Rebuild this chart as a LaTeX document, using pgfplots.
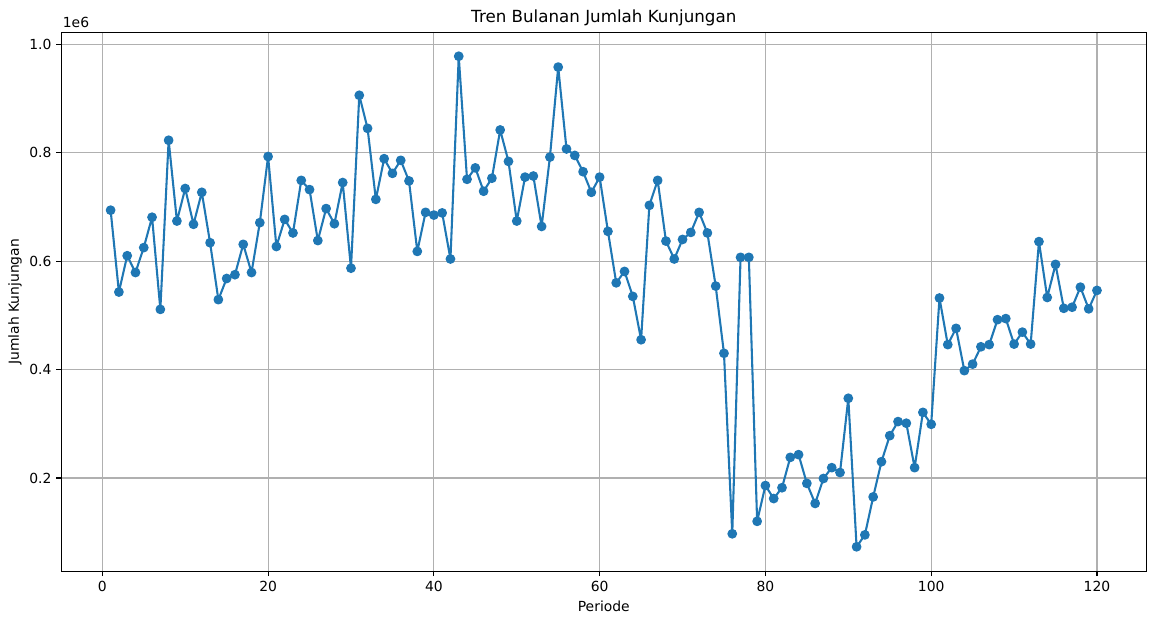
\documentclass[border=0pt]{standalone}
\usepackage{fontspec}
\setmainfont{DejaVu Sans}
\usepackage{pgfplots}
\pgfplotsset{compat=1.18}
\definecolor{mplblue}{HTML}{1F77B4}
\definecolor{gridgray}{HTML}{B0B0B0}
\begin{document}
\fontsize{13.9}{16}\selectfont
\begin{tikzpicture}
\useasboundingbox (0,0) rectangle (1156pt,624pt);
\begin{axis}[
  at={(61.3pt,52.7pt)}, anchor=south west,
  scale only axis, width=1085pt, height=539pt,
  xmin=-4.95, xmax=125.95, ymin=0.0278, ymax=1.0222,
  xtick={0,20,40,60,80,100,120},
  ytick={0.2,0.4,0.6,0.8,1.0},
  y tick label style={/pgf/number format/fixed, /pgf/number format/fixed zerofill, /pgf/number format/precision=1},
  /pgf/number format/assume math mode=true,
  grid=major,
  major grid style={color=gridgray, line width=1.1pt},
  axis line style={line width=1.1pt, black},
  tick align=outside, tick pos=left,
  major tick length=4.9pt,
  tick style={black, line width=1.1pt},
  tick label style={font=\fontsize{13.9}{16}\selectfont},
  xticklabel style={anchor=base, yshift=-15.6pt, inner sep=0pt},
  yticklabel style={anchor=east, xshift=-4.8pt, inner sep=0pt},
  title={Tren Bulanan Jumlah Kunjungan},
  title style={at={(axis description cs:0.5,1)}, anchor=base, yshift=3.3pt, inner sep=0pt, font=\fontsize{16.7}{19}\selectfont},
  xlabel={Periode},
  xlabel style={at={(axis description cs:0.5,0)}, anchor=base, yshift=-40.4pt, inner sep=0pt, font=\fontsize{13.9}{16}\selectfont},
  ylabel={Jumlah Kunjungan},
  ylabel style={at={(axis description cs:-0.039,0.5)}, anchor=base, inner sep=0pt, font=\fontsize{13.9}{16}\selectfont},
  clip=false,
]
\addplot[color=mplblue, line width=2.08pt, line join=round, line cap=round, mark=*, mark size=4.17pt,
  mark options={fill=mplblue, draw=mplblue, line width=1.39pt}] coordinates {
(1,0.694) (2,0.543) (3,0.610) (4,0.579) (5,0.625) (6,0.681) (7,0.511) (8,0.823) (9,0.674) (10,0.734)
(11,0.668) (12,0.727) (13,0.634) (14,0.529) (15,0.568) (16,0.575) (17,0.631) (18,0.579) (19,0.671) (20,0.793)
(21,0.627) (22,0.677) (23,0.652) (24,0.749) (25,0.732) (26,0.638) (27,0.697) (28,0.669) (29,0.745) (30,0.587)
(31,0.906) (32,0.845) (33,0.714) (34,0.789) (35,0.762) (36,0.786) (37,0.748) (38,0.618) (39,0.690) (40,0.685)
(41,0.689) (42,0.604) (43,0.978) (44,0.751) (45,0.772) (46,0.729) (47,0.753) (48,0.842) (49,0.784) (50,0.674)
(51,0.755) (52,0.757) (53,0.664) (54,0.792) (55,0.958) (56,0.807) (57,0.795) (58,0.765) (59,0.727) (60,0.755)
(61,0.655) (62,0.560) (63,0.581) (64,0.535) (65,0.455) (66,0.703) (67,0.749) (68,0.637) (69,0.604) (70,0.640)
(71,0.653) (72,0.690) (73,0.652) (74,0.554) (75,0.430) (76,0.097) (77,0.607) (78,0.607) (79,0.120) (80,0.186)
(81,0.162) (82,0.182) (83,0.238) (84,0.243) (85,0.190) (86,0.153) (87,0.199) (88,0.219) (89,0.210) (90,0.347)
(91,0.073) (92,0.095) (93,0.165) (94,0.230) (95,0.278) (96,0.304) (97,0.301) (98,0.219) (99,0.321) (100,0.299)
(101,0.532) (102,0.446) (103,0.476) (104,0.398) (105,0.410) (106,0.442) (107,0.446) (108,0.492) (109,0.494) (110,0.447)
(111,0.469) (112,0.447) (113,0.636) (114,0.533) (115,0.594) (116,0.513) (117,0.515) (118,0.552) (119,0.512) (120,0.546)
};
\node[anchor=base west, inner sep=0pt, font=\fontsize{13.9}{16}\selectfont] at (rel axis cs:0,1) [xshift=1.4pt, yshift=5pt] {1e6};
\end{axis}
\end{tikzpicture}
\end{document}
